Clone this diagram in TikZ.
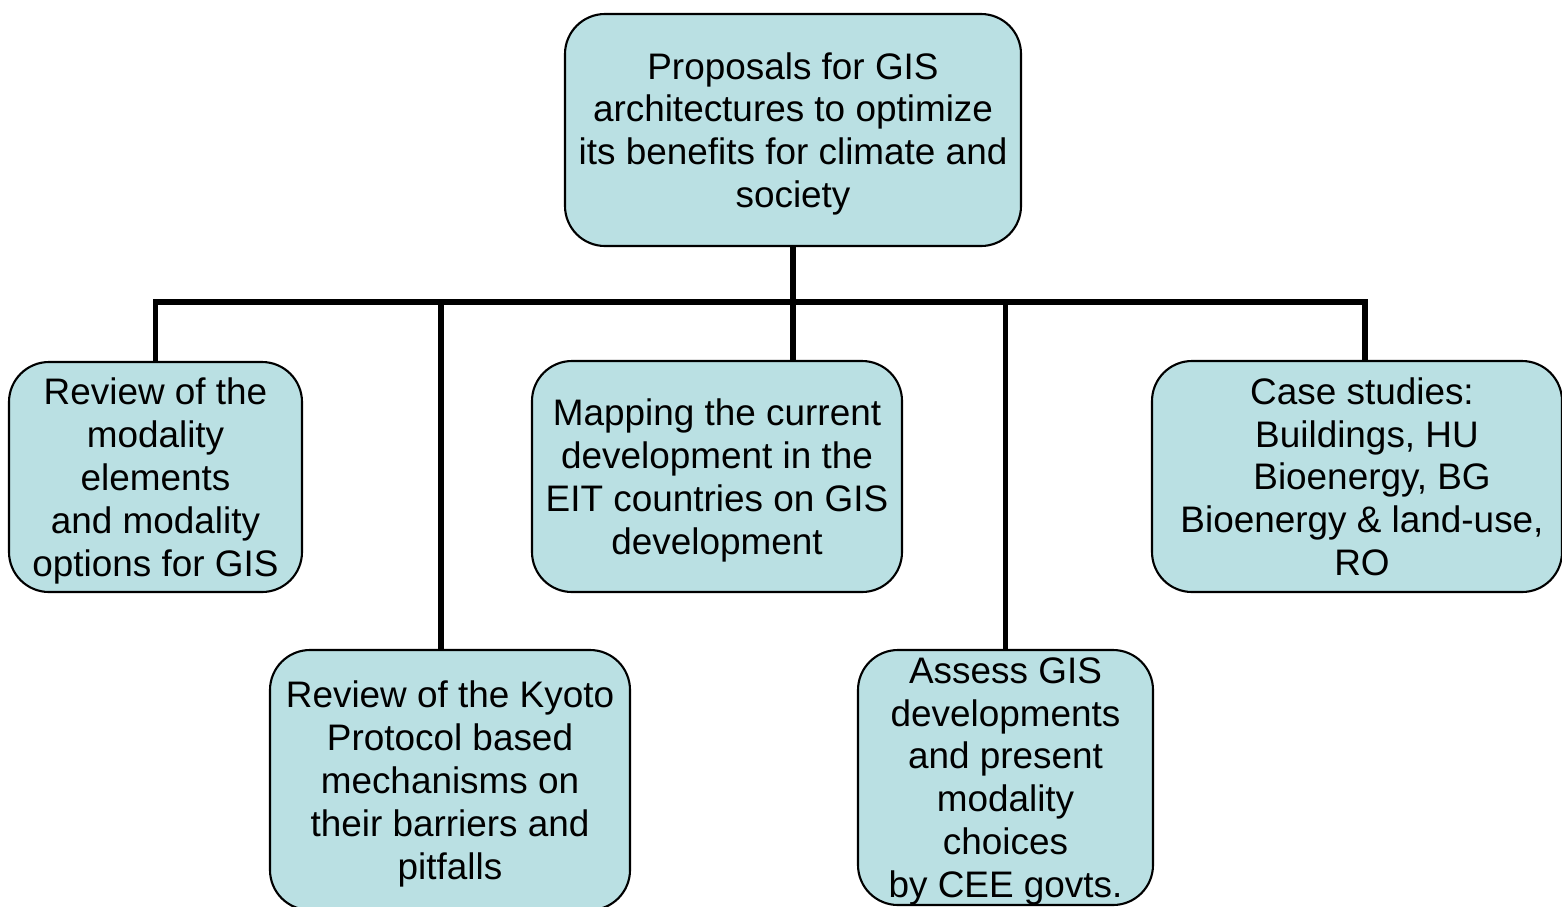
\documentclass[tikz,border=0pt]{standalone}
\usepackage{fontspec}
\setmainfont{Liberation Sans}
\usepackage{xcolor}
\usepackage{tikz}
\usetikzlibrary{positioning}
\definecolor{boxfill}{RGB}{186,224,227}

\begin{document}
\begin{tikzpicture}[
    box/.style={draw, line width=0.6pt, rounded corners=0.4cm, fill=boxfill, align=center, inner sep=1pt,
        text depth=0pt, font=\fontsize{10.5}{12.2}\selectfont},
    conn/.style={line width=1.5pt}
]
\useasboundingbox (0,0) rectangle (15.62,-9.06);
\node[box, minimum width=4.56cm, minimum height=2.32cm] (top) at (7.93,-1.30) {Proposals for GIS\\architectures to optimize\\its benefits for climate and\\society};
\node[box, minimum width=2.93cm, minimum height=2.30cm] (rev) at (1.555,-4.77) {Review of the\\modality\\elements\\and modality\\options for GIS};
\node[box, minimum width=3.70cm, minimum height=2.31cm] (map) at (7.17,-4.765) {Mapping the current\\development in the\\EIT countries on GIS\\development};
\node[box, minimum width=4.10cm, minimum height=2.31cm] (case) at (13.57,-4.765) {\hspace*{0.1cm}Case studies:\\\hspace*{0.2cm}Buildings, HU\\\hspace*{0.3cm}Bioenergy, BG\\\hspace*{0.1cm}Bioenergy \& land-use,\\\hspace*{0.1cm}RO};
\node[box, minimum width=3.60cm, minimum height=2.60cm] (kyoto) at (4.50,-7.80) {Review of the Kyoto\\Protocol based\\mechanisms on\\their barriers and\\pitfalls};
\node[box, inner ysep=0pt, minimum width=2.95cm, minimum height=2.55cm] (assess) at (10.055,-7.775) {Assess GIS\\developments\\and present\\modality\\choices\\by CEE govts.};
\coordinate (hub) at (7.93,-3.02);
\draw[conn] (top.south) -- (hub);
\draw[conn] (hub) -| (rev.north);
\draw[conn] (hub) -| ([xshift=-0.09cm]kyoto.north);
\draw[conn] (hub) -- (hub |- map.north);
\draw[conn] (hub) -| (assess.north);
\draw[conn] (hub) -| ([xshift=0.08cm]case.north);
\end{tikzpicture}
\end{document}
